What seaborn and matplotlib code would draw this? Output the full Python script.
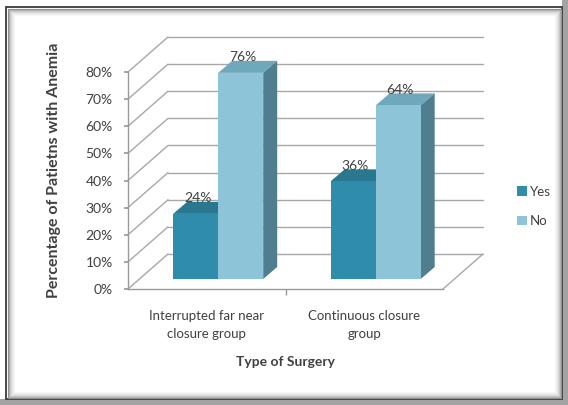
import matplotlib
matplotlib.use("Agg")
import matplotlib.pyplot as plt
from matplotlib.patches import Polygon, Rectangle, Patch
from matplotlib.colors import to_rgba
import numpy as np
import pandas as pd
import seaborn as sns

# ---- data -------------------------------------------------------------
groups = ["Interrupted far near\nclosure group", "Continuous closure\ngroup"]
answers = ["Yes", "No"]
yes_pct = [24, 36]
no_pct = [76, 64]
y_ticks = [0, 10, 20, 30, 40, 50, 60, 70, 80]
y_tick_labels = [f"{t}%" for t in y_ticks]

df = pd.DataFrame({
    "group": groups * 2,
    "anemia": ["Yes"] * len(groups) + ["No"] * len(groups),
    "pct": yes_pct + no_pct,
})

# ---- style ------------------------------------------------------------
W, H, DPI = 568, 405, 100
front_colors = {"Yes": "#2f8cab", "No": "#8ec4d8"}
top_colors = {"Yes": "#2a7890", "No": "#6fa8ba"}
side_colors = {"Yes": "#22647a", "No": "#4f7f8e"}
grid_color = "#a8a8a8"
text_color = "#404040"

sns.set_theme(style="white")
plt.rcParams["font.family"] = ["Lato", "DejaVu Sans"]

fig = plt.figure(figsize=(W / DPI, H / DPI), dpi=DPI)
fig.patch.set_facecolor("white")


def fig_box(x0, y0, x1, y1):
    """Pixel box (origin top-left) -> figure-fraction rectangle."""
    return [x0 / W, 1 - y1 / H, (x1 - x0) / W, (y1 - y0) / H]


# ---- chart-area frame with bevel --------------------------------------
bg = fig.add_axes([0, 0, 1, 1], zorder=-5)
bg.set_xlim(0, W)
bg.set_ylim(H, 0)
bg.axis("off")
bg.add_patch(Rectangle((0, 399), W, 6, facecolor="#a3a3a3", edgecolor="none"))
bg.add_patch(Rectangle((562, 0), 6, H, facecolor="#a3a3a3", edgecolor="none"))
bg.add_patch(Rectangle((6, 7), 556, 392, facecolor="white",
                       edgecolor="#3c3c3c", linewidth=1.3))
for i, c in enumerate(["#8f8f8f", "#b0b0b0", "#c8c8c8", "#d9d9d9",
                       "#e6e6e6", "#efefef", "#f6f6f6"]):
    off = 1.5 + i
    bg.add_patch(Rectangle((6 + off, 7 + off), 556 - 2 * off, 392 - 2 * off,
                           facecolor="none", edgecolor=c, linewidth=0.8))

# ---- geometry of the pseudo-3D plot -----------------------------------
PX_X = 315 / 2.0      # pixels per category unit
PX_Y = 217 / 80.0     # pixels per percent
BX, BY = 40 / PX_X, 35 / PX_Y      # offset of the back wall
DX, DY = 14 / PX_X, 12 / PX_Y      # depth of each column

# front plane: holds the walls, floor, ticks and labels
ax = fig.add_axes(fig_box(128, 72, 443, 289), zorder=1)
ax.set_facecolor("none")
ax.set_xlim(-0.5, 1.5)
ax.set_ylim(0, 80)

line_kw = dict(color=grid_color, linewidth=1.0, clip_on=False, zorder=0)
for t in y_ticks:
    ax.plot([-0.5, -0.5 + BX], [t, t + BY], **line_kw)
    ax.plot([-0.5 + BX, 1.5 + BX], [t + BY, t + BY], **line_kw)
ax.plot([1.5, 1.5 + BX], [0, BY], **line_kw)

for side in ["top", "right"]:
    ax.spines[side].set_visible(False)
for side in ["left", "bottom"]:
    ax.spines[side].set_color("#9a9a9a")
    ax.spines[side].set_linewidth(1.0)

ax.set_yticks(y_ticks, y_tick_labels)
ax.set_xticks(range(len(groups)), groups)
ax.set_xticks([0.5], minor=True)
ax.tick_params(axis="y", which="major", length=3, color="#9a9a9a",
               direction="out", pad=8, labelsize=10, labelcolor=text_color,
               left=True)
ax.tick_params(axis="x", which="major", length=0, pad=15, labelsize=9.5,
               labelcolor=text_color)
ax.tick_params(axis="x", which="minor", length=4, color="#9a9a9a",
               direction="out", bottom=True)
for lab in ax.get_xticklabels():
    lab.set_linespacing(1.6)
ax.set_xlabel("")
ax.set_ylabel("")

# column plane: same scales, sitting part way into the depth
axb = fig.add_axes(fig_box(128 + 11.4, 62, 443 + 11.4, 279), zorder=2)
axb.set_facecolor("none")
sns.barplot(data=df, x="group", y="pct", hue="anemia", order=groups,
            hue_order=answers, palette=front_colors, width=0.572,
            saturation=1, linewidth=0, legend=False, ax=axb, errorbar=None)
axb.set_xlim(-0.5, 1.5)
axb.set_ylim(0, 80)
axb.axis("off")

for bar in list(axb.patches):
    x0, w, h = bar.get_x(), bar.get_width(), bar.get_height()
    fc = bar.get_facecolor()
    key = min(answers, key=lambda a: np.abs(np.array(to_rgba(front_colors[a])) - np.array(fc)).sum())
    bar.set_zorder(2)
    bar.set_clip_on(False)
    top = Polygon([(x0, h), (x0 + w, h), (x0 + w + DX, h + DY), (x0 + DX, h + DY)],
                  closed=True, facecolor=top_colors[key], edgecolor="none",
                  zorder=1, clip_on=False)
    side = Polygon([(x0 + w, 0), (x0 + w + DX, DY), (x0 + w + DX, h + DY), (x0 + w, h)],
                   closed=True, facecolor=side_colors[key], edgecolor="none",
                   zorder=1, clip_on=False)
    axb.add_patch(top)
    axb.add_patch(side)
    axb.text(x0 + w / 2 + DX * 0.15, h + DY + 1.4, f"{h:.0f}%",
             ha="center", va="center", fontsize=10, color=text_color,
             zorder=3, clip_on=False)

# ---- titles and legend ------------------------------------------------
fig.text(54 / W, 1 - 170 / H, "Percentage of Patietns with Anemia",
         rotation=90, ha="center", va="center", fontsize=11.5,
         fontweight="bold", color=text_color)
fig.text(286 / W, 1 - 362 / H, "Type of Surgery", ha="center", va="center",
         fontsize=10, fontweight="bold", color=text_color)

handles = [Patch(facecolor=front_colors[a], edgecolor="none") for a in answers]
fig.legend(handles, answers, loc="center left",
           bbox_to_anchor=(517 / W, 1 - 206.5 / H), frameon=False,
           handlelength=0.75, handleheight=0.75, handletextpad=0.25,
           labelspacing=1.3, borderpad=0, borderaxespad=0, fontsize=9.5,
           labelcolor=text_color)

fig.savefig("out.png", dpi=DPI, facecolor="white")
